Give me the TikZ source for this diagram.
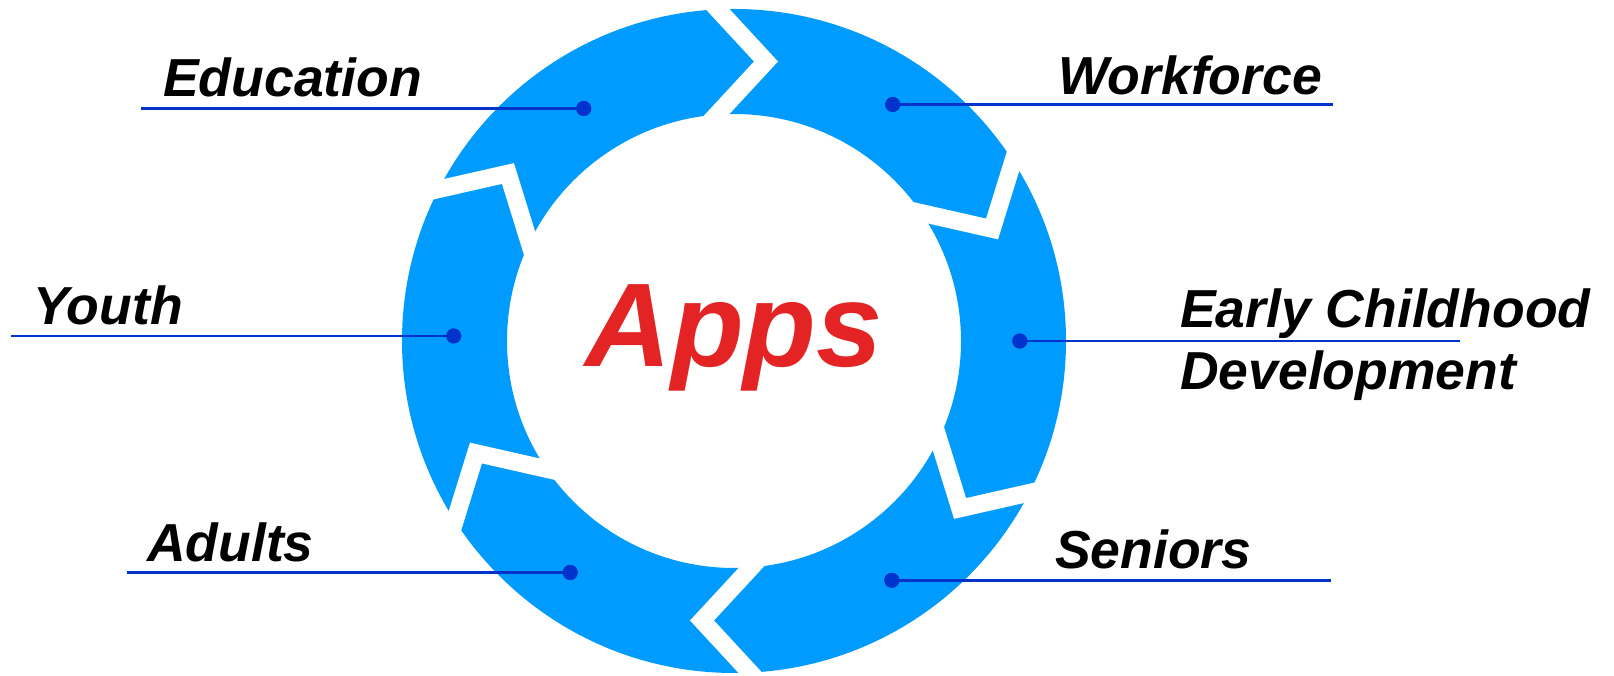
\documentclass[tikz,border=0pt]{standalone}
\usepackage{fontspec}
\setmainfont{Liberation Sans}
\definecolor{ringblue}{RGB}{0,155,255}
\definecolor{leadblue}{RGB}{0,51,204}
\definecolor{appsred}{RGB}{228,35,36}
\begin{document}
\begin{tikzpicture}[x=1pt,y=1pt,
  lab/.style={anchor=base west, inner sep=0pt, font=\fontsize{53.5}{60}\selectfont\bfseries\itshape},
  dot/.style={circle, fill=leadblue, inner sep=0pt, minimum size=15pt},
  leader/.style={draw=leadblue, line width=2.6pt},
  gapband/.style={fill=white}]
\useasboundingbox[fill=white] (0,0) rectangle (1614,676);
\coordinate (c) at (734,335);
% ring
\fill[ringblue, even odd rule] (c) circle[radius=332] (c) circle[radius=227];
% chevron gaps
\foreach \a in {0,60,...,300}{
  \begin{scope}[shift={(734,335)}, rotate=\a]
    \fill[gapband] (-60,366) -- (20,279.5) -- (-60,193) -- (-36,193) -- (44,279.5) -- (-36,366) -- cycle;
  \end{scope}}
% dots
\node[dot] (dedu) at (583.7,567.5) {};
\node[dot] (dwork) at (892.7,571.5) {};
\node[dot] (dyouth) at (453.7,340) {};
\node[dot] (dec) at (1019.8,335) {};
\node[dot] (dadult) at (570.2,103.5) {};
\node[dot] (dsen) at (891.8,95.7) {};
% leader ends
\coordinate (ledu) at (140.5,567.5);
\coordinate (lwork) at (1333,571.5);
\coordinate (lyouth) at (10.5,340);
\coordinate (lec) at (1460,335);
\coordinate (ladult) at (126.5,103.5);
\coordinate (lsen) at (1331,95.7);
\draw[leader] (ledu) -- (dedu.center);
\draw[leader] (dwork.center) -- (lwork);
\draw[leader] (lyouth) -- (dyouth.center);
\draw[leader] (dec.center) -- (lec);
\draw[leader] (ladult) -- (dadult.center);
\draw[leader] (dsen.center) -- (lsen);
% redraw dots on top of leaders
\fill[leadblue] (dedu) circle[radius=7.5] (dwork) circle[radius=7.5] (dyouth) circle[radius=7.5]
  (dec) circle[radius=7.5] (dadult) circle[radius=7.5] (dsen) circle[radius=7.5];
% labels
\node[lab] (tedu) at (163,579) {Education};
\node[lab] (twork) at (1058,581) {Workforce};
\node[lab] (tyouth) at (33,351) {Youth};
\node[lab] (tec1) at (1180,348) {Early Childhood};
\node[lab] (tec2) at (1180,286) {Development};
\node[lab] (tadult) at (147,114) {Adults};
\node[lab] (tsen) at (1055,107) {Seniors};
\node[anchor=base west, inner sep=0pt, text=appsred, font=\fontsize{119}{130}\selectfont\bfseries\itshape] (apps) at (585,309) {Apps};
\end{tikzpicture}
\end{document}
